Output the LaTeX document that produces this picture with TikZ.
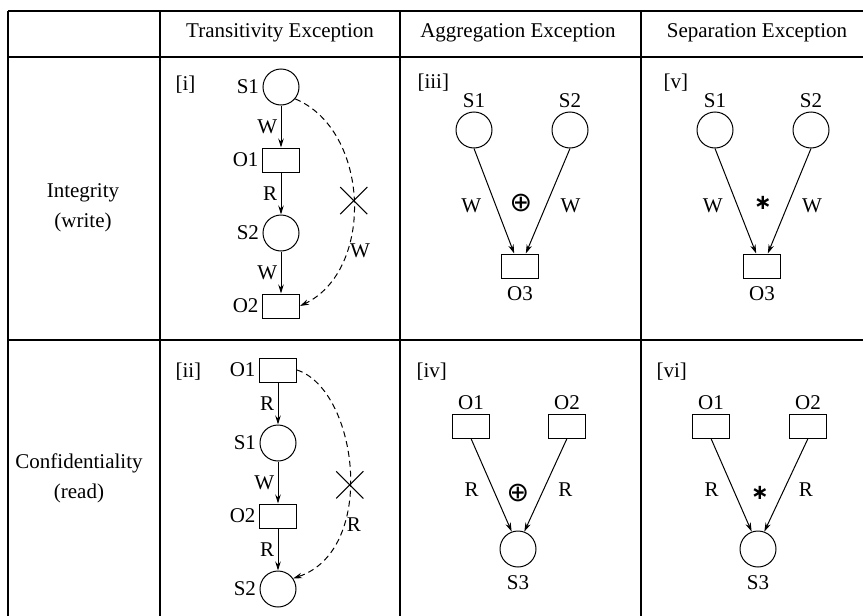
\documentclass[tikz,border=0pt]{standalone}
\usepackage{fontspec}
\setmainfont{Liberation Serif}
\newfontfamily\symfont{DejaVu Sans}
\usetikzlibrary{arrows.meta,positioning,shapes.misc}
\tikzset{
  >=Stealth,
  every node/.append style={font=\fontsize{21}{30}\selectfont},
}
\tikzset{
  subj/.style={circle, draw, minimum size=36pt, inner sep=0pt, line width=1pt},
  obj/.style={rectangle, draw, minimum width=37pt, minimum height=24pt, inner sep=0pt, line width=1pt},
  flow/.style={-{Stealth[length=9pt,width=5.5pt]}, line width=1pt},
  illegal/.style={flow, dash pattern=on 6pt off 4pt},
  crossmark/.style={cross out, draw, solid, minimum size=26pt, inner sep=0pt, line width=1.1pt},
  gridline/.style={line width=1.4pt},
  tag/.style={anchor=west},
  rowhead/.style={align=center},
  opsum/.style={font=\symfont\fontsize{27}{30}\selectfont},
  opsep/.style={font=\symfont\bfseries\fontsize{21}{24}\selectfont}
}

\begin{document}
\begin{tikzpicture}[x=1pt, y=1pt, node distance=42pt]
\useasboundingbox (0,0) rectangle (863,-616);

% table grid
\draw[gridline] (8,-11) -- (863,-11);
\draw[gridline] (8,-57) -- (863,-57);
\draw[gridline] (8,-340) -- (863,-340);
\foreach \x in {8,160,400,641}
  \draw[gridline] (\x,-11) -- (\x,-616);

% column and row heads
\node (htrans) at (280,-33) {Transitivity Exception};
\node (hagg) at (518,-33) {Aggregation Exception};
\node (hsep) at (757,-33) {Separation Exception};
\node[rowhead] (hint) at (83,-208) {Integrity\\(write)};
\node[rowhead] (hconf) at (79,-478) {Confidentiality\\(read)};

% [i] transitivity, write
\node[tag] (ti) at (172,-85) {[i]};
\node[subj, label=left:S1] (s1i) at (281,-87) {};
\node[obj, label=left:O1, below=of s1i] (o1i) {};
\node[subj, label=left:S2, below=of o1i] (s2i) {};
\node[obj, label=left:O2, below=of s2i] (o2i) {};
\draw[flow] (s1i) -- node[left] (wi1) {W} (o1i);
\draw[flow] (o1i) -- node[left] (ri1) {R} (s2i);
\draw[flow] (s2i) -- node[left] (wi2) {W} (o2i);
\draw[illegal] (s1i.-40) .. controls (370,-130) and (375,-270) .. (o2i.east)
  node[crossmark, pos=0.5] (xi) {}
  node[pos=0.7, right] (wi3) {W};

% [ii] transitivity, read
\node[tag] (tii) at (172,-372) {[ii]};
\node[obj, label=left:O1] (o1ii) at (278,-370) {};
\node[subj, label=left:S1, below=of o1ii] (s1ii) {};
\node[obj, label=left:O2, below=of s1ii] (o2ii) {};
\node[subj, label=left:S2, below=of o2ii] (s2ii) {};
\draw[flow] (o1ii) -- node[left] (rii1) {R} (s1ii);
\draw[flow] (s1ii) -- node[left] (wii1) {W} (o2ii);
\draw[flow] (o2ii) -- node[left] (rii2) {R} (s2ii);
\draw[illegal] (o1ii.east) .. controls (358,-390) and (378,-550) .. (s2ii.35)
  node[crossmark, pos=0.55] (xii) {}
  node[pos=0.7, right] (rii3) {R};

% [iii] aggregation, write
\node[tag] (tiii) at (414,-83) {[iii]};
\node[subj, label=above:S1] (s1iii) at (474,-130) {};
\node[subj, label=above:S2] (s2iii) at (570,-130) {};
\node[obj, label={[label distance=5pt]below:O3}] (o3iii) at (520,-266) {};
\draw[flow] (s1iii.south) -- (o3iii.115) node[pos=0.55, left=11pt] (wiii1) {W};
\draw[flow] (s2iii.south) -- (o3iii.65) node[pos=0.55, right=11pt] (wiii2) {W};
\node[opsum] (opiii) at (521,-203) {⊕};

% [iv] aggregation, read
\node[tag] (tiv) at (413,-372) {[iv]};
\node[obj, label=above:O1] (o1iv) at (471,-426) {};
\node[obj, label=above:O2] (o2iv) at (567,-426) {};
\node[subj, label={[label distance=5pt]below:S3}] (s3iv) at (518,-549) {};
\draw[flow] (o1iv.south) -- (s3iv.110) node[pos=0.55, left=11pt] (riv1) {R};
\draw[flow] (o2iv.south) -- (s3iv.70) node[pos=0.55, right=11pt] (riv2) {R};
\node[opsum] (opiv) at (518,-493) {⊕};

% [v] separation, write
\node[tag] (tv) at (660,-83) {[v]};
\node[subj, label=above:S1] (s1v) at (715,-130) {};
\node[subj, label=above:S2] (s2v) at (811,-130) {};
\node[obj, label={[label distance=5pt]below:O3}] (o3v) at (762,-266) {};
\draw[flow] (s1v.south) -- (o3v.115) node[pos=0.55, left=11pt] (wv1) {W};
\draw[flow] (s2v.south) -- (o3v.65) node[pos=0.55, right=11pt] (wv2) {W};
\node[opsep] (opv) at (763,-203) {∗};

% [vi] separation, read
\node[tag] (tvi) at (653,-372) {[vi]};
\node[obj, label=above:O1] (o1vi) at (711,-426) {};
\node[obj, label=above:O2] (o2vi) at (808,-426) {};
\node[subj, label={[label distance=5pt]below:S3}] (s3vi) at (758,-549) {};
\draw[flow] (o1vi.south) -- (s3vi.110) node[pos=0.55, left=11pt] (rvi1) {R};
\draw[flow] (o2vi.south) -- (s3vi.70) node[pos=0.55, right=11pt] (rvi2) {R};
\node[opsep] (opvi) at (760,-493) {∗};

\end{tikzpicture}
\end{document}
